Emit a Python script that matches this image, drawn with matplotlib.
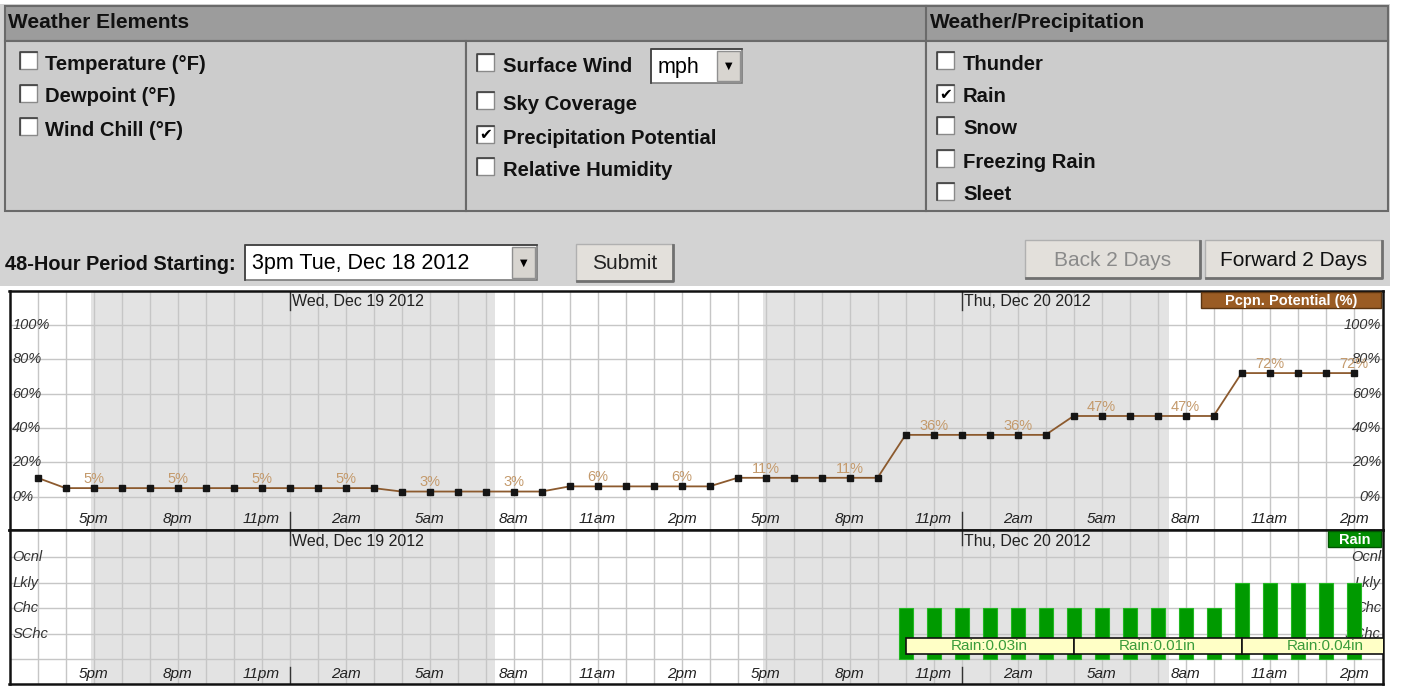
import matplotlib
matplotlib.use("Agg")
import matplotlib.pyplot as plt
from matplotlib.patches import Rectangle

plt.rcParams['font.family'] = ['Liberation Sans', 'DejaVu Sans']

W, H = 1415, 693

# hourly forecast, 3pm Tue Dec 18 2012 -> 2pm Thu Dec 20 2012
hour_idx = list(range(48))
pop = [11,
       5, 5, 5, 5, 5, 5, 5, 5, 5, 5, 5, 5,
       3, 3, 3, 3, 3, 3,
       6, 6, 6, 6, 6, 6,
       11, 11, 11, 11, 11, 11,
       36, 36, 36, 36, 36, 36,
       47, 47, 47, 47, 47, 47,
       72, 72, 72, 72, 72]
hour_labels = ['5pm', '8pm', '11pm', '2am', '5am', '8am', '11am', '2pm',
               '5pm', '8pm', '11pm', '2am', '5am', '8am', '11am', '2pm']
label_idx = hour_idx[2::3]
day_idx = [9, 33]
day_labels = ['Wed, Dec 19 2012', 'Thu, Dec 20 2012']
night_spans = [(1.9, 16.35), (25.9, 40.4)]
pop_ticks = [0, 20, 40, 60, 80, 100]

rain_idx = [31, 32, 33, 34, 35, 36, 37, 38, 39, 40, 41, 42, 43, 44, 45, 46, 47]
rain_level = [2, 2, 2, 2, 2, 2, 2, 2, 2, 2, 2, 2, 3, 3, 3, 3, 3]
rain_cats = ['SChc', 'Chc', 'Lkly', 'Ocnl']
qpf_start = [31, 37, 43]
qpf_amount = ['0.03', '0.01', '0.04']

# form contents
col1_items = ['Temperature (°F)', 'Dewpoint (°F)', 'Wind Chill (°F)']
col1_checked = [False, False, False]
col2_items = ['Surface Wind', 'Sky Coverage', 'Precipitation Potential', 'Relative Humidity']
col2_checked = [False, False, True, False]
col3_items = ['Thunder', 'Rain', 'Snow', 'Freezing Rain', 'Sleet']
col3_checked = [False, True, False, False, False]

fig = plt.figure(figsize=(W / 100, H / 100), dpi=100)
fig.patch.set_facecolor('white')

# background axes in pixel coords for the web form
bg = fig.add_axes([0, 0, 1, 1])
bg.set_xlim(0, W)
bg.set_ylim(H, 0)
bg.axis('off')


def rect(ax, x0, y0, x1, y1, fc, ec='none', lw=1.0, z=1):
    ax.add_patch(Rectangle((x0, y0), x1 - x0, y1 - y0, facecolor=fc,
                           edgecolor=ec, linewidth=lw, zorder=z))


def checkbox(x, y, checked):
    rect(bg, x, y, x + 17, y + 17, 'white', '#8a8a8a', 1.0, 3)
    bg.plot([x, x, x + 17], [y + 17, y, y], color='#404040', lw=1.2, zorder=4)
    if checked:
        bg.text(x + 8.5, y + 9, '✔', family='DejaVu Sans', fontsize=11,
                ha='center', va='center', color='black', zorder=5)


def button(x0, y0, x1, y1, label, color):
    rect(bg, x0, y0, x1, y1, '#e3e0db', '#b0b0b0', 1.0, 3)
    bg.plot([x0 + 1, x1, x1], [y1, y1, y0 + 1], color='#707070', lw=2, zorder=4)
    bg.text((x0 + x1) / 2, (y0 + y1) / 2 + 1, label, fontsize=15, color=color,
            ha='center', va='center', zorder=5)


def dropdown(x0, y0, x1, y1, label):
    rect(bg, x0, y0, x1, y1, 'white', '#7a7a7a', 1.2, 3)
    bg.plot([x0, x0, x1], [y1, y0, y0], color='#404040', lw=1.2, zorder=4)
    rect(bg, x1 - 25, y0 + 2, x1 - 2, y1 - 2, '#d8d5d0', '#909090', 1.0, 4)
    bg.text(x1 - 13.5, (y0 + y1) / 2, '▼', family='DejaVu Sans', fontsize=7,
            ha='center', va='center', color='black', zorder=5)
    bg.text(x0 + 7, (y0 + y1) / 2 + 1, label, fontsize=15.5, ha='left',
            va='center', color='black', zorder=5)


# gray page region
rect(bg, 0, 4, 1390, 286, '#d3d3d3', z=0)
# header row
rect(bg, 5, 6, 1388, 41, '#9c9c9c', '#6a6a6a', 1.5, 1)
bg.plot([926, 926], [6, 41], color='#6a6a6a', lw=1.5, zorder=2)
# panel cells
for x0, x1 in [(5, 466), (466, 926), (926, 1388)]:
    rect(bg, x0, 41, x1, 211, '#cccccc', '#6a6a6a', 1.5, 1)

bg.text(8, 23, 'Weather Elements', fontsize=15, fontweight='bold',
        ha='left', va='center', color='#111')
bg.text(930, 23, 'Weather/Precipitation', fontsize=15, fontweight='bold',
        ha='left', va='center', color='#111')

for lab, chk, yc in zip(col1_items, col1_checked, [64, 97, 130]):
    checkbox(20, yc - 12, chk)
    bg.text(45, yc, lab, fontsize=14.6, fontweight='bold', ha='left', va='center', color='#111')
for lab, chk, yc in zip(col2_items, col2_checked, [66, 104, 138, 170]):
    checkbox(477, yc - 12, chk)
    bg.text(503, yc, lab, fontsize=14.6, fontweight='bold', ha='left', va='center', color='#111')
for lab, chk, yc in zip(col3_items, col3_checked, [64, 97, 129, 162, 195]):
    checkbox(937, yc - 12, chk)
    bg.text(963, yc, lab, fontsize=14.6, fontweight='bold', ha='left', va='center', color='#111')

dropdown(651, 49, 742, 83, 'mph')

bg.text(5, 264, '48-Hour Period Starting:', fontsize=14.4, fontweight='bold',
        ha='left', va='center', color='#111')
dropdown(245, 245, 537, 280, '3pm Tue, Dec 18 2012')
button(576, 244, 673, 281, 'Submit', '#222')
button(1025, 240, 1200, 278, 'Back 2 Days', '#8a8a8a')
button(1205, 240, 1382, 278, 'Forward 2 Days', '#111')

# ---- precipitation potential chart ----
XL = (-1.0, 48.05)
ax1 = fig.add_axes([9.5 / W, 1 - 530 / H, 1373.5 / W, 239 / H])
ax2 = fig.add_axes([9.5 / W, 1 - 684 / H, 1373.5 / W, 154 / H])

for ax in (ax1, ax2):
    ax.set_xlim(*XL)
    for a, b in night_spans:
        ax.axvspan(a, b, color='#e3e3e3', lw=0, zorder=0.2)
    ax.set_xticks(hour_idx)
    ax.set_axisbelow(True)
    ax.grid(True, color='#c6c6c6', lw=1)
    ax.tick_params(length=0, labelbottom=False, labelleft=False)
    for sp in ax.spines.values():
        sp.set_linewidth(1.8)
        sp.set_color('#111')

ax1.set_ylim(-19.4, 119.8)
ax1.set_yticks(pop_ticks)
ax1.plot(hour_idx, pop, color='#8c5a2e', lw=1.3, marker='s', ms=4,
         mfc='#151515', mec='#151515', zorder=4)
for i in label_idx:
    ax1.text(i, pop[i] + 5.3, f'{pop[i]}%', ha='center', va='center',
             color='#c49a6c', fontsize=10.5, zorder=5)
for v in pop_ticks:
    ax1.text(0.002, v, f'{v}%', transform=ax1.get_yaxis_transform(), ha='left',
             va='center', style='italic', fontsize=10.5, color='#333', zorder=3)
    ax1.text(0.9985, v, f'{v}%', transform=ax1.get_yaxis_transform(), ha='right',
             va='center', style='italic', fontsize=10.5, color='#333', zorder=3)
for i, lab in zip(label_idx, hour_labels):
    ax1.text(i, 0.046, lab, transform=ax1.get_xaxis_transform(), ha='center',
             va='center', style='italic', fontsize=11, color='#222')
for d, lab in zip(day_idx, day_labels):
    ax1.axvline(d, ymin=0.92, ymax=1, color='#333', lw=1)
    ax1.axvline(d, ymin=0, ymax=0.075, color='#333', lw=1)
    ax1.text(d + 0.08, 0.954, lab, transform=ax1.get_xaxis_transform(),
             ha='left', va='center', fontsize=11.5, color='#222')

# ---- rain chart ----
ax2.set_ylim(-0.98, 5.06)
ax2.set_yticks([0, 1, 2, 3, 4])
for lvl, cat in enumerate(rain_cats, start=1):
    ax2.text(0.002, lvl, cat, transform=ax2.get_yaxis_transform(), ha='left',
             va='center', style='italic', fontsize=10.5, color='#333', zorder=2)
    ax2.text(0.9985, lvl, cat, transform=ax2.get_yaxis_transform(), ha='right',
             va='center', style='italic', fontsize=10.5, color='#333', zorder=2)
ax2.bar(rain_idx, rain_level, width=0.5, color='#009a00', edgecolor='#22b822',
        lw=0.8, zorder=3)
for s, amt in zip(qpf_start, qpf_amount):
    ax2.add_patch(Rectangle((s, 0.2), 6, 0.62, facecolor='#ffffc6',
                            edgecolor='#111', lw=1.2, zorder=5))
    ax2.text(s + 3, 0.5, f'Rain:{amt}in', ha='center', va='center',
             color='#3a9c3a', fontsize=11, zorder=6)
for i, lab in zip(label_idx, hour_labels):
    ax2.text(i, 0.065, lab, transform=ax2.get_xaxis_transform(), ha='center',
             va='center', style='italic', fontsize=11, color='#222')
for d, lab in zip(day_idx, day_labels):
    ax2.axvline(d, ymin=0.9, ymax=1, color='#333', lw=1)
    ax2.axvline(d, ymin=0, ymax=0.11, color='#333', lw=1)
    ax2.text(d + 0.08, 0.925, lab, transform=ax2.get_xaxis_transform(),
             ha='left', va='center', fontsize=11.5, color='#222')

# legend tabs on top of the charts
front = fig.add_axes([0, 0, 1, 1])
front.set_xlim(0, W)
front.set_ylim(H, 0)
front.axis('off')
front.patch.set_alpha(0)
rect(front, 1201, 292, 1381, 308, '#9a5c24', '#5a3410', 1.0, 2)
front.text(1291, 300.5, 'Pcpn. Potential (%)', fontsize=10.5, fontweight='bold',
           color='white', ha='center', va='center', zorder=3)
rect(front, 1328, 531, 1381, 547, '#008c00', '#005500', 1.0, 2)
front.text(1354.5, 539.5, 'Rain', fontsize=10.5, fontweight='bold',
           color='white', ha='center', va='center', zorder=3)

fig.savefig('out.png', dpi=100)
